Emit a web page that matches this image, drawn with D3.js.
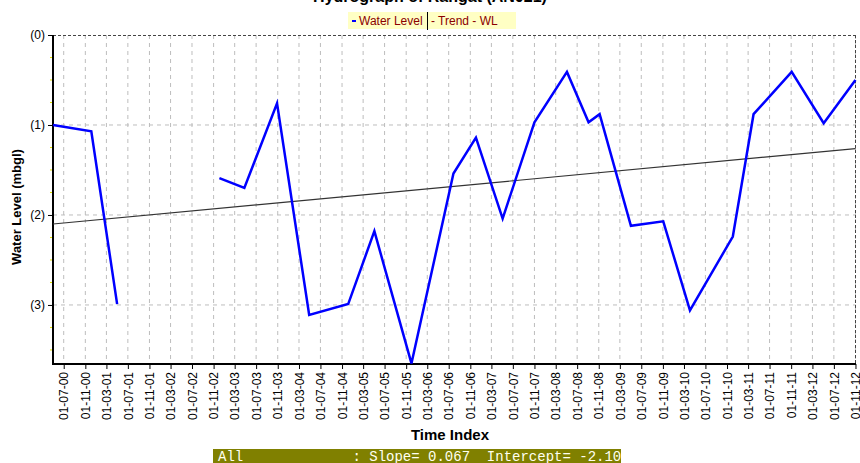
<!DOCTYPE html>
<html>
<head>
<meta charset="utf-8">
<script src="https://cdn.jsdelivr.net/npm/d3@7"></script>
<style>
  html, body { margin: 0; padding: 0; background: #fff; }
  svg { display: block; }
</style>
</head>
<body>
<svg id="chart" width="860" height="463"></svg>
<script>
// Observation dates (dd-mm-yyyy); a null level marks a break in the record
const obsDates = [
  "01-05-2000", "05-12-2000", "01-05-2001",
  "15-06-2002",
  "04-12-2002", "25-04-2003", "28-10-2003", "28-04-2004", "06-12-2004",
  "04-05-2005", "01-12-2005", "28-07-2006", "03-12-2006", "04-05-2007",
  "01-11-2007", "04-05-2008", "04-09-2008", "06-11-2008", "03-05-2009",
  "03-11-2009", "04-04-2010", "04-12-2010", "01-04-2011", "04-11-2011",
  "04-05-2012", "01-11-2012"
];
// Water level below ground (m), stored as negative values
const waterLevel = [
  -1.00, -1.07, -2.99,
  null,
  -1.59, -1.70, -0.76, -3.11, -2.99,
  -2.18, -3.65, -1.54, -1.14, -2.04,
  -0.97, -0.41, -0.97, -0.88, -2.12,
  -2.07, -3.06, -2.24, -0.88, -0.41,
  -0.98, -0.50
];
const xTickLabels = [
  "01-07-00", "01-11-00", "01-03-01", "01-07-01", "01-11-01", "01-03-02",
  "01-07-02", "01-11-02", "01-03-03", "01-07-03", "01-11-03", "01-03-04",
  "01-07-04", "01-11-04", "01-03-05", "01-07-05", "01-11-05", "01-03-06",
  "01-07-06", "01-11-06", "01-03-07", "01-07-07", "01-11-07", "01-03-08",
  "01-07-08", "01-11-08", "01-03-09", "01-07-09", "01-11-09", "01-03-10",
  "01-07-10", "01-11-10", "01-03-11", "01-07-11", "01-11-11", "01-03-12",
  "01-07-12", "01-11-12"
];
const yTicks = [0, -1, -2, -3];
const trendSlope = [0.067];      // m per year
const trendIntercept = [-2.10];  // m at start of record
const chartTitle = "Hydrograph of Rangat (AN021)";

const svg = d3.select("#chart");
const margin = { left: 53, right: 4, top: 35, bottom: 99 };
const W = 860, H = 463;
const x0 = margin.left, x1 = W - margin.right;
const y0 = margin.top, y1 = H - margin.bottom;

const parseObs = d3.timeParse("%d-%m-%Y");
const parseTick = d3.timeParse("%d-%m-%y");
const fmtTick = d3.timeFormat("%d-%m-%y");

const data = obsDates.map((d, i) => ({ date: parseObs(d), value: waterLevel[i] }));
const tickDates = xTickLabels.map(parseTick);

const x = d3.scaleTime()
  .domain([data[0].date, d3.timeDay.offset(data[data.length - 1].date, 3)])
  .range([x0, x1]);
const y = d3.scaleLinear().domain([-3.656, 0]).range([y1, y0]);

// Gridlines
const grid = svg.append("g");
grid.selectAll("line.v").data(tickDates).join("line")
  .attr("x1", d => x(d)).attr("x2", d => x(d))
  .attr("y1", y0).attr("y2", y1)
  .attr("stroke", "#bdbdbd").attr("stroke-dasharray", "4,4").attr("stroke-width", 1);
grid.selectAll("line.h").data(yTicks.filter(d => d !== 0)).join("line")
  .attr("x1", x0).attr("x2", x1)
  .attr("y1", d => y(d)).attr("y2", d => y(d))
  .attr("stroke", "#bdbdbd").attr("stroke-dasharray", "4,4").attr("stroke-width", 1);

// Frame: dashed top and right, solid axes on the left and bottom
svg.append("line").attr("x1", x0).attr("x2", x1).attr("y1", y0 + 0.5).attr("y2", y0 + 0.5)
  .attr("stroke", "#444").attr("stroke-dasharray", "3,2");
svg.append("line").attr("x1", x1 - 0.5).attr("x2", x1 - 0.5).attr("y1", y0).attr("y2", y1)
  .attr("stroke", "#444").attr("stroke-dasharray", "3,2");

// Minor ticks on the y axis (yellow)
const minor = d3.range(-3.5, 0.001, 0.25).filter(v => Math.abs(v - Math.round(v)) > 1e-6);
svg.append("g").selectAll("line").data(minor).join("line")
  .attr("x1", x0 - 3).attr("x2", x0)
  .attr("y1", d => y(d)).attr("y2", d => y(d))
  .attr("stroke", "#e0e000").attr("stroke-width", 1);

// Y axis
const yAxis = d3.axisLeft(y).tickValues(yTicks).tickSize(5).tickPadding(3)
  .tickFormat(d => "(" + Math.abs(d) + ")");
const gy = svg.append("g").attr("transform", `translate(${x0},0)`).call(yAxis);
gy.select(".domain").remove();
gy.selectAll("text").attr("font-family", "Arial, 'Liberation Sans', sans-serif")
  .attr("font-size", 12).attr("fill", "#000");
gy.selectAll("line").attr("stroke", "#000");

// X axis
const xAxis = d3.axisBottom(x).tickValues(tickDates).tickSize(5).tickFormat(fmtTick);
const gx = svg.append("g").attr("transform", `translate(0,${y1})`).call(xAxis);
gx.select(".domain").remove();
gx.selectAll("line").attr("stroke", "#000");
gx.selectAll("text")
  .attr("font-family", "Arial, 'Liberation Sans', sans-serif")
  .attr("font-size", 12).attr("fill", "#000")
  .attr("transform", "rotate(-90)")
  .attr("text-anchor", "end")
  .attr("x", -8).attr("y", 0).attr("dy", "0.35em");

svg.append("line").attr("x1", x0).attr("x2", x0).attr("y1", y0).attr("y2", y1 + 1)
  .attr("stroke", "#000").attr("stroke-width", 2);
svg.append("line").attr("x1", x0 - 1).attr("x2", x1).attr("y1", y1).attr("y2", y1)
  .attr("stroke", "#000").attr("stroke-width", 2);

// Trend line from slope and intercept
const start = data[0].date, end = data[data.length - 1].date;
const yearsSpan = (end - start) / (365.25 * 24 * 3600 * 1000);
const trendPts = [
  { date: start, value: trendIntercept[0] },
  { date: end, value: trendIntercept[0] + trendSlope[0] * yearsSpan }
];
svg.append("path")
  .datum(trendPts)
  .attr("d", d3.line().x(d => x(d.date)).y(d => y(d.value)))
  .attr("fill", "none").attr("stroke", "#333").attr("stroke-width", 1.2);

// Water level series
svg.append("path")
  .datum(data)
  .attr("d", d3.line().defined(d => d.value !== null).x(d => x(d.date)).y(d => y(d.value)))
  .attr("fill", "none").attr("stroke", "#0000ff").attr("stroke-width", 2.5)
  .attr("stroke-linejoin", "miter");

// Title
svg.append("text").attr("x", 430).attr("y", 2)
  .attr("text-anchor", "middle")
  .attr("font-family", "Arial, 'Liberation Sans', sans-serif")
  .attr("font-weight", "bold").attr("font-size", 16)
  .text(chartTitle);

// Legend
const lg = svg.append("g");
lg.append("rect").attr("x", 348).attr("y", 12).attr("width", 168).attr("height", 17)
  .attr("fill", "#ffffc4");
lg.append("line").attr("x1", 352).attr("x2", 356).attr("y1", 21).attr("y2", 21)
  .attr("stroke", "#0000ff").attr("stroke-width", 2);
lg.append("text").attr("x", 359).attr("y", 25)
  .attr("font-family", "Arial, 'Liberation Sans', sans-serif").attr("font-size", 12)
  .attr("fill", "#8b0000").text("Water Level");
lg.append("line").attr("x1", 427.5).attr("x2", 427.5).attr("y1", 12).attr("y2", 30)
  .attr("stroke", "#000").attr("stroke-width", 1);
lg.append("text").attr("x", 431).attr("y", 25)
  .attr("font-family", "Arial, 'Liberation Sans', sans-serif").attr("font-size", 12)
  .attr("fill", "#8b0000").text("- Trend - WL");

// Axis titles
svg.append("text").attr("transform", "translate(21,207) rotate(-90)")
  .attr("text-anchor", "middle")
  .attr("font-family", "Arial, 'Liberation Sans', sans-serif")
  .attr("font-weight", "bold").attr("font-size", 13)
  .text("Water Level (mbgl)");
svg.append("text").attr("x", 450).attr("y", 440)
  .attr("text-anchor", "middle")
  .attr("font-family", "Arial, 'Liberation Sans', sans-serif")
  .attr("font-weight", "bold").attr("font-size", 15)
  .text("Time Index");

// Regression summary bar
const summary = "All             : Slope= " + trendSlope[0].toFixed(3) +
  "  Intercept= " + trendIntercept[0].toFixed(2);
svg.append("rect").attr("x", 213).attr("y", 449).attr("width", 408).attr("height", 14)
  .attr("fill", "#808000");
svg.append("text").attr("x", 218).attr("y", 461)
  .attr("font-family", "'Liberation Mono', 'DejaVu Sans Mono', monospace")
  .attr("font-size", 14).attr("fill", "#fffff0")
  .attr("xml:space", "preserve").style("white-space", "pre")
  .text(summary);
</script>
</body>
</html>
